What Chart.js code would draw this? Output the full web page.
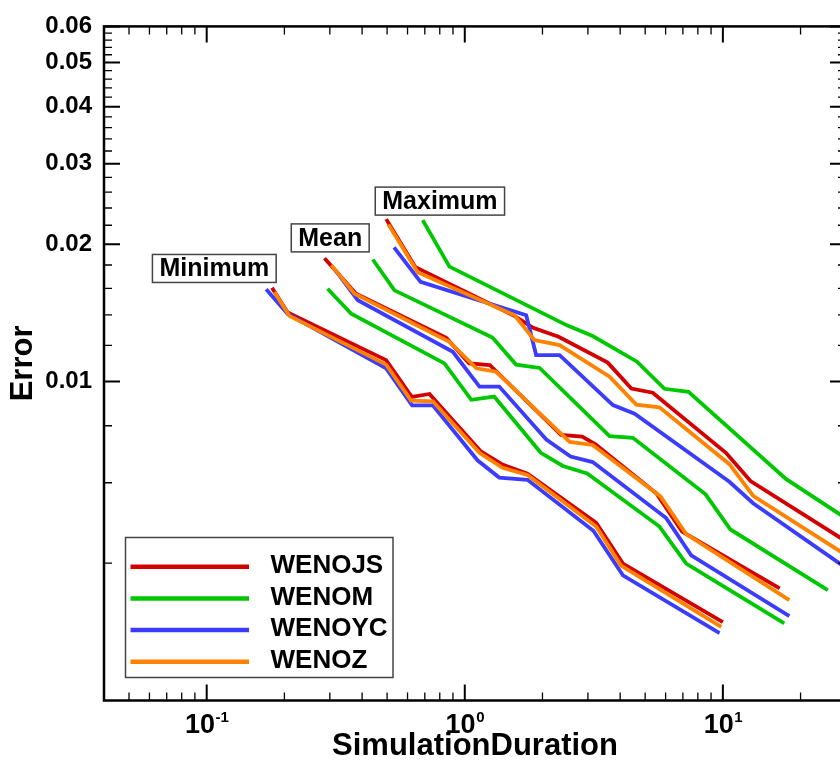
<!DOCTYPE html>
<html>
<head>
<meta charset="utf-8">
<title>Error vs simulation duration</title>
<script src="https://cdn.jsdelivr.net/npm/chart.js@4.4.1/dist/chart.umd.min.js"></script>
<style>
  html, body { margin: 0; padding: 0; background: #fff; overflow: hidden; }
  canvas { display: block; }
</style>
</head>
<body>
<canvas id="errorChart" width="860" height="760"></canvas>
<script>
// WENOJS
const jsMinDuration  = [0.179, 0.206, 0.496, 0.624, 0.730, 1.15, 1.39, 1.75, 3.23, 4.10, 10.0];
const jsMinError     = [0.01605, 0.01417, 0.01114, 0.00925, 0.00939, 0.00704, 0.00659, 0.00628, 0.00490, 0.00399, 0.00297];
const jsMeanDuration = [0.286, 0.379, 0.847, 1.04, 1.25, 2.36, 2.85, 3.21, 5.52, 6.95, 16.6];
const jsMeanError    = [0.01863, 0.01557, 0.01247, 0.01096, 0.01087, 0.00764, 0.00757, 0.00728, 0.00569, 0.00469, 0.00352];
const jsMaxDuration  = [0.496, 0.644, 1.54, 1.84, 2.31, 3.58, 4.42, 5.35, 10.3, 12.8, 29.9];
const jsMaxError     = [0.02269, 0.01781, 0.01397, 0.01311, 0.01253, 0.01100, 0.00965, 0.00945, 0.00697, 0.00605, 0.00447];

// WENOM
const mMinDuration  = [0.294, 0.363, 0.834, 1.06, 1.30, 1.97, 2.40, 2.98, 5.68, 7.21, 17.3];
const mMinError     = [0.01597, 0.01408, 0.01096, 0.00912, 0.00927, 0.00698, 0.00653, 0.00629, 0.00481, 0.00399, 0.00295];
const mMeanDuration = [0.440, 0.534, 1.28, 1.58, 1.95, 3.64, 4.48, 8.57, 10.7, 25.5];
const mMeanError    = [0.01851, 0.01584, 0.01248, 0.01089, 0.01071, 0.00759, 0.00753, 0.00566, 0.00474, 0.00349];
const mMaxDuration  = [0.687, 0.872, 2.50, 3.13, 4.65, 5.94, 7.36, 17.6, 29.9];
const mMaxError     = [0.02258, 0.01785, 0.01326, 0.01258, 0.01105, 0.00964, 0.00949, 0.00611, 0.00502];

// WENOYC
const ycMinDuration  = [0.170, 0.206, 0.496, 0.625, 0.752, 1.12, 1.36, 1.75, 3.15, 4.10, 9.71];
const ycMinError     = [0.01592, 0.01406, 0.01069, 0.00887, 0.00887, 0.00672, 0.00616, 0.00609, 0.00471, 0.00376, 0.00281];
const ycMeanDuration = [0.315, 0.385, 0.899, 1.14, 1.36, 2.07, 2.57, 3.13, 6.03, 7.54, 18.1];
const ycMeanError    = [0.01754, 0.01507, 0.01162, 0.00975, 0.00975, 0.00746, 0.00685, 0.00666, 0.00502, 0.00416, 0.00306];
const ycMaxDuration  = [0.532, 0.674, 1.73, 1.89, 2.33, 3.75, 4.55, 10.6, 13.1, 29.9];
const ycMaxError     = [0.01968, 0.01654, 0.01397, 0.01143, 0.01143, 0.00888, 0.00850, 0.00603, 0.00541, 0.00391];

// WENOZ
const zMinDuration  = [0.183, 0.209, 0.496, 0.620, 0.752, 1.14, 1.40, 1.75, 3.23, 4.03, 9.86];
const zMinError     = [0.01571, 0.01393, 0.01089, 0.00908, 0.00905, 0.00698, 0.00647, 0.00624, 0.00481, 0.00395, 0.00290];
const zMeanDuration = [0.304, 0.374, 0.872, 1.11, 1.32, 2.55, 3.13, 5.73, 7.21, 18.1];
const zMeanError    = [0.01799, 0.01557, 0.01222, 0.01069, 0.01051, 0.00737, 0.00726, 0.00560, 0.00463, 0.00332];
const zMaxDuration  = [0.506, 0.657, 1.56, 1.86, 2.33, 3.64, 4.62, 5.68, 10.6, 13.1, 29.9];
const zMaxError     = [0.02209, 0.01736, 0.01397, 0.01233, 0.01202, 0.01025, 0.00890, 0.00878, 0.00659, 0.00562, 0.00417];

const methods = ['WENOJS', 'WENOM', 'WENOYC', 'WENOZ'];
const stats = ['Minimum', 'Mean', 'Maximum'];

const xTickValues = [0.1, 1, 10];
const xTickExponents = ['-1', '0', '1'];
const yTickValues = [0.01, 0.02, 0.03, 0.04, 0.05, 0.06];
const yTickLabels = ['0.01', '0.02', '0.03', '0.04', '0.05', '0.06'];

// where each group label sits, in data units
const groupLabels = [
  { text: 'Minimum', x: 0.107, y: 0.01769 },
  { text: 'Mean', x: 0.301, y: 0.02064 },
  { text: 'Maximum', x: 0.801, y: 0.02485 }
];

const colors = ['#d40000', '#00c800', '#3c3cff', '#ff8200'];
const FONT = '"Liberation Sans", Arial, Helvetica, sans-serif';

const curves = [
  [[jsMinDuration, jsMinError], [jsMeanDuration, jsMeanError], [jsMaxDuration, jsMaxError]],
  [[mMinDuration, mMinError], [mMeanDuration, mMeanError], [mMaxDuration, mMaxError]],
  [[ycMinDuration, ycMinError], [ycMeanDuration, ycMeanError], [ycMaxDuration, ycMaxError]],
  [[zMinDuration, zMinError], [zMeanDuration, zMeanError], [zMaxDuration, zMaxError]]
];

const datasets = [];
methods.forEach((name, i) => {
  curves[i].forEach(([dur, err], k) => {
    datasets.push({
      label: name + ' ' + stats[k],
      data: dur.map((t, j) => ({ x: t, y: err[j] })),
      borderColor: colors[i],
      backgroundColor: colors[i],
      borderWidth: 3.8,
      pointRadius: 0,
      tension: 0,
      fill: false,
      // later methods are painted over earlier ones
      order: methods.length - i
    });
  });
});

// minor tick values for a log axis: 2..9 in each decade
const logMinors = (min, max) => {
  const out = [];
  for (let e = Math.floor(Math.log10(min)); e <= Math.ceil(Math.log10(max)); e++) {
    for (let m = 2; m <= 9; m++) {
      const v = m * Math.pow(10, e);
      if (v > min * 1.0001 && v < max * 0.9999) out.push(v);
    }
  }
  return out;
};

// frame with inward ticks on all sides, x labels, group labels, legend
const decorations = {
  id: 'decorations',
  afterDatasetsDraw(chart) {
    const { ctx, chartArea: a, scales: { x, y } } = chart;
    ctx.save();
    ctx.strokeStyle = '#000';
    ctx.fillStyle = '#000';
    ctx.lineCap = 'butt';

    const xTick = (v, len, w) => {
      const px = x.getPixelForValue(v);
      ctx.lineWidth = w;
      ctx.beginPath();
      ctx.moveTo(px, a.bottom); ctx.lineTo(px, a.bottom - len);
      ctx.moveTo(px, a.top); ctx.lineTo(px, a.top + len);
      ctx.stroke();
    };
    const yTick = (v, len, w) => {
      const py = y.getPixelForValue(v);
      ctx.lineWidth = w;
      ctx.beginPath();
      ctx.moveTo(a.left, py); ctx.lineTo(a.left + len, py);
      ctx.moveTo(a.right, py); ctx.lineTo(a.right - len, py);
      ctx.stroke();
    };
    logMinors(x.min, x.max).forEach(v => { if (!xTickValues.includes(v)) xTick(v, 8, 1.3); });
    xTickValues.forEach(v => xTick(v, 16, 2));
    for (let k = 2; k < 30; k++) {
      if (k % 5 !== 0) yTick(k * 0.002, 8, 1.3);
    }
    yTickValues.forEach(v => yTick(v, 16, 2));

    ctx.lineWidth = 2.5;
    ctx.strokeRect(a.left, a.top, a.right - a.left, a.bottom - a.top);

    // powers of ten under the x axis
    const baseFont = 'bold 27px ' + FONT;
    const supFont = 'bold 15px ' + FONT;
    ctx.textAlign = 'left';
    ctx.textBaseline = 'alphabetic';
    xTickValues.forEach((v, i) => {
      const px = x.getPixelForValue(v);
      ctx.font = baseFont;
      const bw = ctx.measureText('10').width;
      ctx.font = supFont;
      const sw = ctx.measureText(xTickExponents[i]).width;
      const left = px - (bw + sw) / 2;
      ctx.font = baseFont;
      ctx.fillText('10', left, a.bottom + 32);
      ctx.font = supFont;
      ctx.fillText(xTickExponents[i], left + bw + 0.5, a.bottom + 21);
    });

    // boxed group labels
    ctx.font = 'bold 25px ' + FONT;
    ctx.textAlign = 'center';
    ctx.textBaseline = 'middle';
    groupLabels.forEach(g => {
      const cx = x.getPixelForValue(g.x);
      const cy = y.getPixelForValue(g.y);
      const w = ctx.measureText(g.text).width + 14;
      const h = 28;
      ctx.fillStyle = '#fff';
      ctx.fillRect(cx - w / 2, cy - h / 2, w, h);
      ctx.strokeStyle = '#444';
      ctx.lineWidth = 1.5;
      ctx.strokeRect(cx - w / 2, cy - h / 2, w, h);
      ctx.fillStyle = '#000';
      ctx.fillText(g.text, cx, cy + 1);
    });

    // legend
    const lg = { left: a.left + 21.5, top: a.bottom - 163, w: 267.5, h: 140 };
    ctx.fillStyle = '#fff';
    ctx.fillRect(lg.left, lg.top, lg.w, lg.h);
    ctx.strokeStyle = '#444';
    ctx.lineWidth = 1.5;
    ctx.strokeRect(lg.left, lg.top, lg.w, lg.h);
    ctx.font = 'bold 26px ' + FONT;
    ctx.textAlign = 'left';
    methods.forEach((name, i) => {
      const ry = lg.top + 29.3 + i * 31.65;
      ctx.strokeStyle = colors[i];
      ctx.lineWidth = 4.5;
      ctx.beginPath();
      ctx.moveTo(lg.left + 5, ry);
      ctx.lineTo(lg.left + 123.5, ry);
      ctx.stroke();
      ctx.fillStyle = '#000';
      ctx.fillText(name, lg.left + 145, ry - 1);
    });
    ctx.restore();
  }
};

Chart.defaults.font.family = FONT;

new Chart(document.getElementById('errorChart'), {
  type: 'line',
  data: { datasets },
  options: {
    responsive: false,
    animation: false,
    events: [],
    layout: { padding: { top: 22.5, right: 14, bottom: 0, left: 0 } },
    plugins: {
      legend: { display: false },
      tooltip: { enabled: false }
    },
    scales: {
      x: {
        type: 'logarithmic',
        min: 0.04,
        max: 30,
        grid: { display: false, drawTicks: false },
        border: { display: false },
        ticks: { display: false },
        title: {
          display: true,
          text: 'SimulationDuration',
          color: '#000',
          font: { size: 31, weight: 'bold', lineHeight: 0.9 },
          padding: 0
        },
        afterFit: s => { s.height = 59.5; }
      },
      y: {
        type: 'logarithmic',
        min: 0.002,
        max: 0.06,
        grid: { display: false, drawTicks: false },
        border: { display: false },
        afterBuildTicks: s => { s.ticks = yTickValues.map(v => ({ value: v })); },
        ticks: {
          autoSkip: false,
          padding: 12,
          color: '#000',
          font: { size: 24, weight: 'bold' },
          callback: (v, i) => yTickLabels[i]
        },
        title: {
          display: true,
          text: 'Error',
          color: '#000',
          font: { size: 31, weight: 'bold', lineHeight: 1.2 },
          padding: { top: 4.5, bottom: 0 }
        },
        afterFit: s => { s.width = 104; }
      }
    }
  },
  plugins: [decorations]
});
</script>
</body>
</html>
